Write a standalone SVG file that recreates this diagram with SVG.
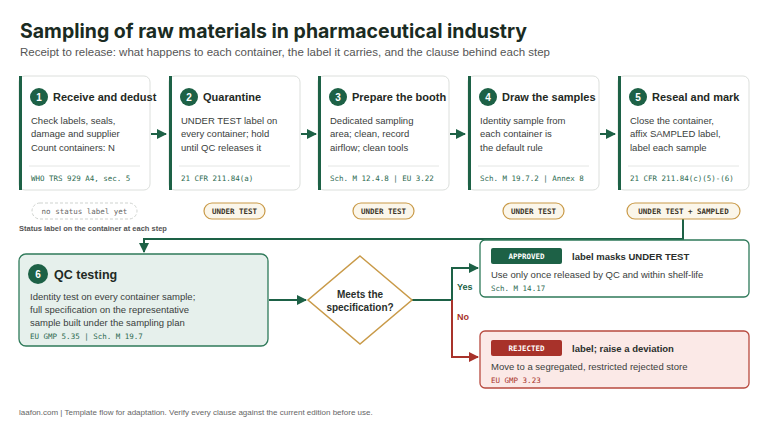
<svg xmlns="http://www.w3.org/2000/svg" width="768" height="432" viewBox="0 0 768 432">
<defs>
<marker id="ag" markerWidth="10" markerHeight="10" refX="9" refY="5" orient="auto" markerUnits="userSpaceOnUse"><path d="M0,0 L10,5 L0,10 Z" fill="#1d6146"/></marker>
<marker id="ar" markerWidth="10" markerHeight="10" refX="9" refY="5" orient="auto" markerUnits="userSpaceOnUse"><path d="M0,0 L10,5 L0,10 Z" fill="#a8322a"/></marker>
<style>
text{font-family:"Liberation Sans","Noto Sans",sans-serif;fill:#2a2f2c}
.card{fill:#fff;stroke:#dcdfdc;stroke-width:1}
.bar{fill:#1d6146}
.num{font-size:10px;font-weight:700;fill:#fff;text-anchor:middle}
.ct{font-size:11px;font-weight:700;fill:#1f2a24}
.bd{font-size:9.5px;fill:#3a403c}
.ref{font-family:"DejaVu Sans Mono","Liberation Mono",monospace;font-size:7.5px;fill:#2d6a50}
.div{stroke:#e4e6e4;stroke-width:1}
.pill{fill:#fbf6ea;stroke:#c99a48;stroke-width:1.2}
.pt{font-family:"DejaVu Sans Mono","Liberation Mono",monospace;font-size:7.5px;font-weight:700;fill:#3b3528;text-anchor:middle}
.cg{stroke:#1d6146;stroke-width:2;fill:none}
.cr{stroke:#a8322a;stroke-width:2;fill:none}
</style>
</defs>
<rect width="768" height="432" fill="#fff"/>
<text x="20" y="38" style="font-family:Inter,'Liberation Sans',sans-serif;font-size:19.5px;font-weight:700;fill:#1a2b22">Sampling of raw materials in pharmaceutical industry</text>
<text x="20" y="56" style="font-size:11.5px;fill:#555">Receipt to release: what happens to each container, the label it carries, and the clause behind each step</text>

<g id="connectors">
<path d="M151,134 H166" class="cg" marker-end="url(#ag)"/>
<path d="M301,134 H316" class="cg" marker-end="url(#ag)"/>
<path d="M450,134 H465" class="cg" marker-end="url(#ag)"/>
<path d="M600,134 H615" class="cg" marker-end="url(#ag)"/>
<path d="M683,218 V239 H144 V252" class="cg" marker-end="url(#ag)"/>
<path d="M269,300 H306" class="cg" marker-end="url(#ag)"/>
<path d="M412,300 H452 V268 H478" class="cg" marker-end="url(#ag)"/>
<path d="M452,300 V357 H478" class="cr" marker-end="url(#ar)"/>
<text x="457" y="290" style="font-size:9px;font-weight:700;fill:#1d6146">Yes</text>
<text x="457" y="320" style="font-size:9px;font-weight:700;fill:#a8322a">No</text>
</g>

<g id="n1">
<rect x="19" y="76" width="131" height="114" rx="6" class="card"/><rect x="19" y="76" width="3" height="114" class="bar"/>
<circle cx="39" cy="97" r="9" fill="#1d6146"/><text x="39" y="101" class="num">1</text>
<text x="53" y="101" class="ct">Receive and dedust</text>
<text x="31" y="124" class="bd">Check labels, seals,</text><text x="31" y="137" class="bd">damage and supplier</text><text x="31" y="151" class="bd">Count containers: N</text>
<line x1="29" y1="166" x2="140" y2="166" class="div"/>
<text x="31" y="181" class="ref">WHO TRS 929 A4, sec. 5</text>
</g>
<g id="n2">
<rect x="169" y="76" width="131" height="114" rx="6" class="card"/><rect x="169" y="76" width="3" height="114" class="bar"/>
<circle cx="189" cy="97" r="9" fill="#1d6146"/><text x="189" y="101" class="num">2</text>
<text x="203" y="101" class="ct">Quarantine</text>
<text x="181" y="124" class="bd">UNDER TEST label on</text><text x="181" y="137" class="bd">every container; hold</text><text x="181" y="151" class="bd">until QC releases it</text>
<line x1="179" y1="166" x2="290" y2="166" class="div"/>
<text x="181" y="181" class="ref">21 CFR 211.84(a)</text>
</g>
<g id="n3">
<rect x="318" y="76" width="131" height="114" rx="6" class="card"/><rect x="318" y="76" width="3" height="114" class="bar"/>
<circle cx="338" cy="97" r="9" fill="#1d6146"/><text x="338" y="101" class="num">3</text>
<text x="352" y="101" class="ct">Prepare the booth</text>
<text x="330" y="124" class="bd">Dedicated sampling</text><text x="330" y="137" class="bd">area; clean, record</text><text x="330" y="151" class="bd">airflow; clean tools</text>
<line x1="328" y1="166" x2="439" y2="166" class="div"/>
<text x="330" y="181" class="ref">Sch. M 12.4.8 | EU 3.22</text>
</g>
<g id="n4">
<rect x="468" y="76" width="131" height="114" rx="6" class="card"/><rect x="468" y="76" width="3" height="114" class="bar"/>
<circle cx="488" cy="97" r="9" fill="#1d6146"/><text x="488" y="101" class="num">4</text>
<text x="502" y="101" class="ct">Draw the samples</text>
<text x="480" y="124" class="bd">Identity sample from</text><text x="480" y="137" class="bd">each container is</text><text x="480" y="151" class="bd">the default rule</text>
<line x1="478" y1="166" x2="589" y2="166" class="div"/>
<text x="480" y="181" class="ref">Sch. M 19.7.2 | Annex 8</text>
</g>
<g id="n5">
<rect x="618" y="76" width="131" height="114" rx="6" class="card"/><rect x="618" y="76" width="3" height="114" class="bar"/>
<circle cx="638" cy="97" r="9" fill="#1d6146"/><text x="638" y="101" class="num">5</text>
<text x="652" y="101" class="ct">Reseal and mark</text>
<text x="630" y="124" class="bd">Close the container,</text><text x="630" y="137" class="bd">affix SAMPLED label,</text><text x="630" y="151" class="bd">label each sample</text>
<line x1="628" y1="166" x2="739" y2="166" class="div"/>
<text x="630" y="181" class="ref">21 CFR 211.84(c)(5)-(6)</text>
</g>

<g id="pills">
<rect x="32" y="203" width="105" height="16" rx="8" fill="#fff" stroke="#cfd3cf" stroke-dasharray="3,2"/><text x="84.5" y="214" class="pt" style="fill:#666;font-weight:400">no status label yet</text>
<rect x="204" y="203" width="61" height="16" rx="8" class="pill"/><text x="234.5" y="214" class="pt">UNDER TEST</text>
<rect x="353" y="203" width="61" height="16" rx="8" class="pill"/><text x="383.5" y="214" class="pt">UNDER TEST</text>
<rect x="503" y="203" width="61" height="16" rx="8" class="pill"/><text x="533.5" y="214" class="pt">UNDER TEST</text>
<rect x="627" y="203" width="113" height="16" rx="8" class="pill"/><text x="683.5" y="214" class="pt">UNDER TEST + SAMPLED</text>
<text x="19" y="231" style="font-size:7.5px;font-weight:700;fill:#555">Status label on the container at each step</text>
</g>

<g id="n6">
<rect x="19" y="254" width="249" height="92" rx="7" fill="#e6f0ec" stroke="#2f7a5a" stroke-width="1.3"/>
<circle cx="38" cy="274" r="10" fill="#1d6146"/><text x="38" y="278" class="num">6</text>
<text x="54" y="279" style="font-size:12.5px;font-weight:700;fill:#1f2a24">QC testing</text>
<text x="30" y="300" class="bd">Identity test on every container sample;</text>
<text x="30" y="313" class="bd">full specification on the representative</text>
<text x="30" y="326" class="bd">sample built under the sampling plan</text>
<text x="30" y="339" class="ref">EU GMP 5.35 | Sch. M 19.7</text>
</g>

<g id="decision">
<path d="M360,256 L412,300 L360,344 L308,300 Z" fill="#fff" stroke="#c99a48" stroke-width="1.5"/>
<text x="360" y="298" text-anchor="middle" style="font-size:10px;font-weight:700">Meets the</text>
<text x="360" y="311" text-anchor="middle" style="font-size:10px;font-weight:700">specification?</text>
</g>

<g id="approved">
<rect x="480" y="240" width="269" height="57" rx="5" fill="#fff" stroke="#2f7a5a" stroke-width="1.3"/>
<rect x="491" y="248" width="71" height="16" rx="2" fill="#1d6146"/>
<text x="526.5" y="259" class="pt" style="fill:#fff">APPROVED</text>
<text x="572" y="260" style="font-size:9.5px;font-weight:700">label masks UNDER TEST</text>
<text x="491" y="278" class="bd">Use only once released by QC and within shelf-life</text>
<text x="491" y="291" class="ref">Sch. M 14.17</text>
</g>
<g id="rejected">
<rect x="480" y="331" width="269" height="57" rx="5" fill="#fbe9e7" stroke="#b84a3f" stroke-width="1.3"/>
<rect x="491" y="340" width="71" height="16" rx="2" fill="#a8322a"/>
<text x="526.5" y="351" class="pt" style="fill:#fff">REJECTED</text>
<text x="572" y="352" style="font-size:9.5px;font-weight:700">label; raise a deviation</text>
<text x="491" y="370" class="bd">Move to a segregated, restricted rejected store</text>
<text x="491" y="383" class="ref" style="fill:#a8322a">EU GMP 3.23</text>
</g>

<text x="19" y="415" style="font-size:8px;fill:#666">laafon.com | Template flow for adaptation. Verify every clause against the current edition before use.</text>
</svg>
